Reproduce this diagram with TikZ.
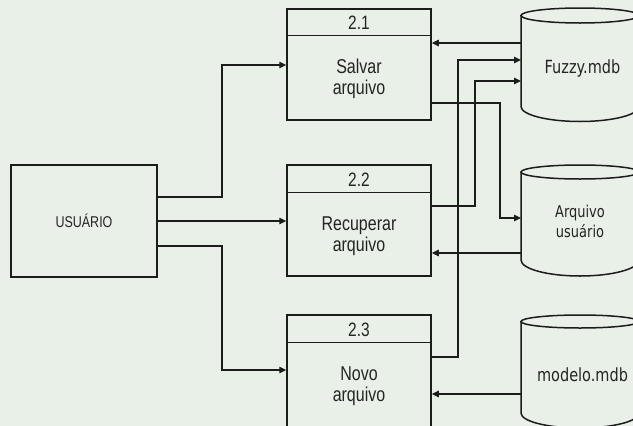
\documentclass[tikz,border=0pt]{standalone}
\usepackage{fontspec}
\usepackage{graphicx}
\setmainfont{Liberation Sans}
\newfontfamily\dbfont{DejaVu Sans}
\usetikzlibrary{arrows.meta,calc}
\definecolor{paper}{RGB}{232,240,232}
\definecolor{ink}{RGB}{28,28,28}
\definecolor{textink}{RGB}{36,36,36}

% glyphs in this chart are set slightly taller than wide
\newcommand\tallbox[1]{\scalebox{1}[1.25]{#1}}
\newcommand\twolines[2]{\tallbox{\begin{tabular}{@{}c@{}}#1\\#2\end{tabular}}}

\tikzset{
  boxline/.style={draw=ink, line width=1.5pt},
  procbox/.style={boxline, minimum width=144pt, inner sep=0pt},
  userbox/.style={boxline, minimum width=146pt, minimum height=112pt, inner sep=0pt,
    text=textink, font=\fontsize{12.5}{14}\selectfont},
  hdrlabel/.style={text=textink, inner sep=0pt, font=\fontsize{15.5}{16}\selectfont},
  proclabel/.style={text=textink, inner sep=0pt, font=\fontsize{16}{17}\selectfont},
  dbbody/.style={minimum width=118pt, inner sep=0pt, outer sep=0pt},
  dblabel/.style={text=textink, inner sep=0pt},
  flow/.style={draw=ink, line width=1.4pt, -{Triangle[length=7pt,width=6.5pt]}},
}

\begin{document}
\begin{tikzpicture}[x=1pt,y=-1pt]
  \fill[paper] (0,0) rectangle (633,426);
  \useasboundingbox (0,0) rectangle (633,426);

  % external entity
  \node[userbox] (user) at (84,221) {\tallbox{USUÁRIO}};

  % processes
  \node[procbox, minimum height=111pt] (p1) at (359,64.5) {};
  \node[procbox, minimum height=111pt] (p2) at (359,220.5) {};
  \node[procbox, minimum height=113pt] (p3) at (359,371.5) {};
  \draw[boxline] ($(p1.north west)+(0,27)$) -- ($(p1.north east)+(0,27)$);
  \draw[boxline] ($(p2.north west)+(0,28)$) -- ($(p2.north east)+(0,28)$);
  \draw[boxline] ($(p3.north west)+(0,28)$) -- ($(p3.north east)+(0,28)$);

  \node[hdrlabel] (h1) at (359,23) {\tallbox{2.1}};
  \node[hdrlabel] (h2) at (359,179.5) {\tallbox{2.2}};
  \node[hdrlabel] (h3) at (359,329.5) {\tallbox{2.3}};

  \node[proclabel] (t1) at (359,80) {\twolines{Salvar}{arquivo}};
  \node[proclabel] (t2) at (359,237) {\twolines{Recuperar}{arquivo}};
  \node[proclabel] (t3) at (359,387) {\twolines{Novo}{arquivo}};

  % data stores (cylinders)
  \node[dbbody, minimum height=91pt] (fz) at (580,61) {};
  \node[dbbody, minimum height=88pt] (au) at (580,216) {};
  \node[dbbody, minimum height=91.5pt] (md) at (580,367.25) {};

  \draw[boxline] (fz.north) ellipse[x radius=59pt, y radius=7.5pt];
  \draw[boxline] (fz.north west) -- (fz.south west)
    arc[start angle=180, end angle=360, x radius=59pt, y radius=15pt] -- (fz.north east);
  \draw[boxline] (au.north) ellipse[x radius=59pt, y radius=7pt];
  \draw[boxline] (au.north west) -- (au.south west)
    arc[start angle=180, end angle=360, x radius=59pt, y radius=16pt] -- (au.north east);
  \draw[boxline] (md.north) ellipse[x radius=59pt, y radius=6.5pt];
  \draw[boxline] (md.north west) -- (md.south west)
    arc[start angle=180, end angle=360, x radius=59pt, y radius=15pt] -- (md.north east);

  \node[dblabel, font=\dbfont\fontsize{14.5}{15}\selectfont] (fzl) at (582.5,68) {\tallbox{Fuzzy.mdb}};
  \node[dblabel, font=\dbfont\fontsize{13}{16}\selectfont] (aul) at (580,223) {\twolines{Arquivo}{usuário}};
  \node[dblabel, font=\dbfont\fontsize{14.5}{15}\selectfont] (mdl) at (582.5,375) {\tallbox{modelo.mdb}};

  % data flows
  \draw[flow] (user.east |- 0,197) -| (222,65) -- (p1.west |- 0,65);
  \draw[flow] (user.east |- 0,221) -- (p2.west |- 0,221);
  \draw[flow] (user.east |- 0,246) -| (222,370) -- (p3.west |- 0,370);

  \draw[flow] (fz.west |- 0,43) -- (p1.east |- 0,43);
  \draw[flow] (p1.east |- 0,103) -| (500,218) -- (au.west |- 0,218);
  \draw[flow] (p2.east |- 0,206) -| (475,81) -- (fz.west |- 0,81);
  \draw[flow] (p3.east |- 0,357) -| (458,60) -- (fz.west |- 0,60);
  \draw[flow] (au.west |- 0,253) -- (p2.east |- 0,253);
  \draw[flow] (md.west |- 0,394) -- (p3.east |- 0,394);
\end{tikzpicture}
\end{document}
